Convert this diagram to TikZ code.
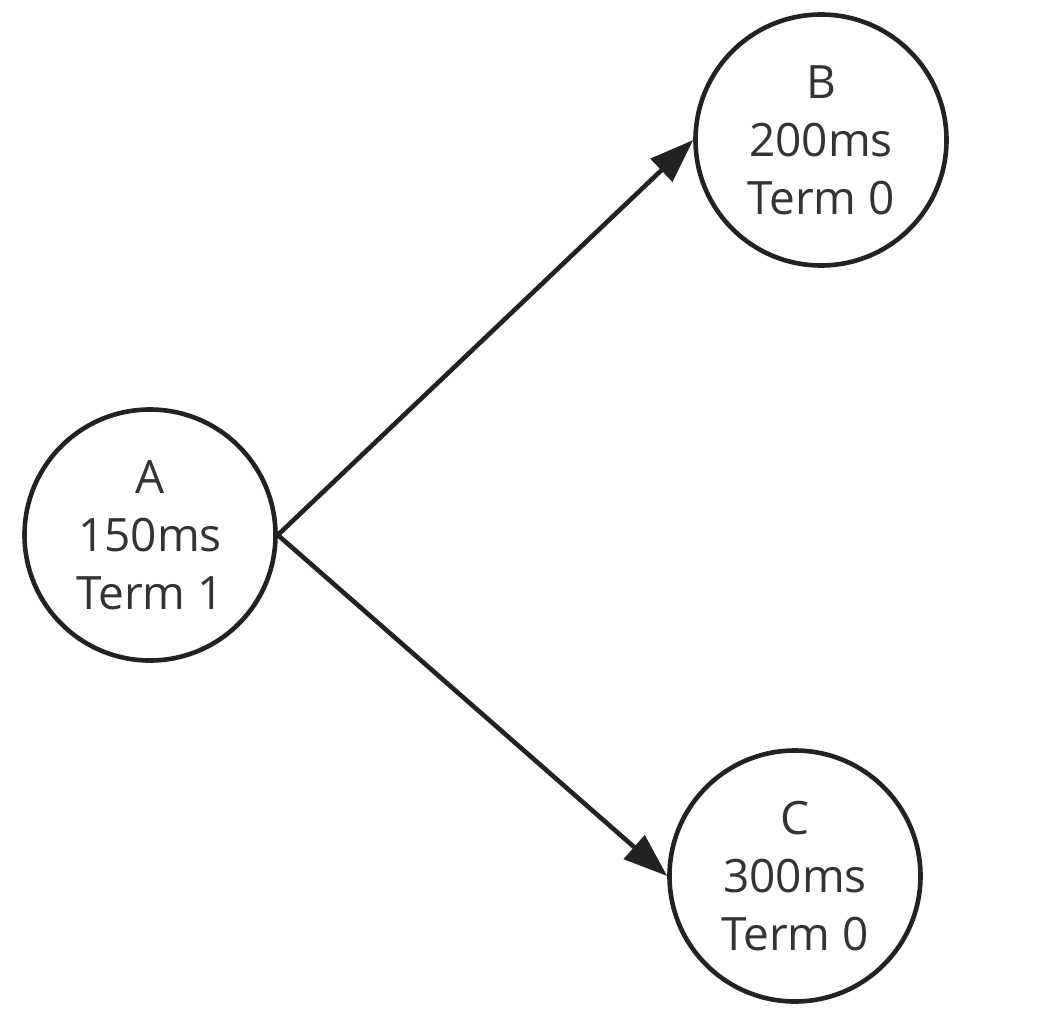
\documentclass[tikz,border=0pt]{standalone}
\usepackage{fontspec}
\setmainfont{Open Sans}
\usetikzlibrary{arrows.meta}
\definecolor{linec}{HTML}{222222}
\definecolor{textc}{HTML}{333333}
\begin{document}
\begin{tikzpicture}[x=1pt,y=-1pt,
  state/.style={circle,draw=linec,line width=4.6pt,inner sep=0pt,minimum size=251pt,
    align=center,text=textc,font=\fontsize{46}{58}\selectfont},
  edge/.style={draw=linec,line width=4.6pt,-{Triangle[length=44pt,width=31pt]}}]
\useasboundingbox (0,0) rectangle (1044,1020);
\node[state] (A) at (150,535) {A\\150ms\\Term 1};
\node[state] (B) at (821,140) {B\\200ms\\Term 0};
\node[state] (C) at (795,876) {C\\300ms\\Term 0};
\draw[edge] (A.east) -- (B.west);
\draw[edge] (A.east) -- (C.west);
\end{tikzpicture}
\end{document}
